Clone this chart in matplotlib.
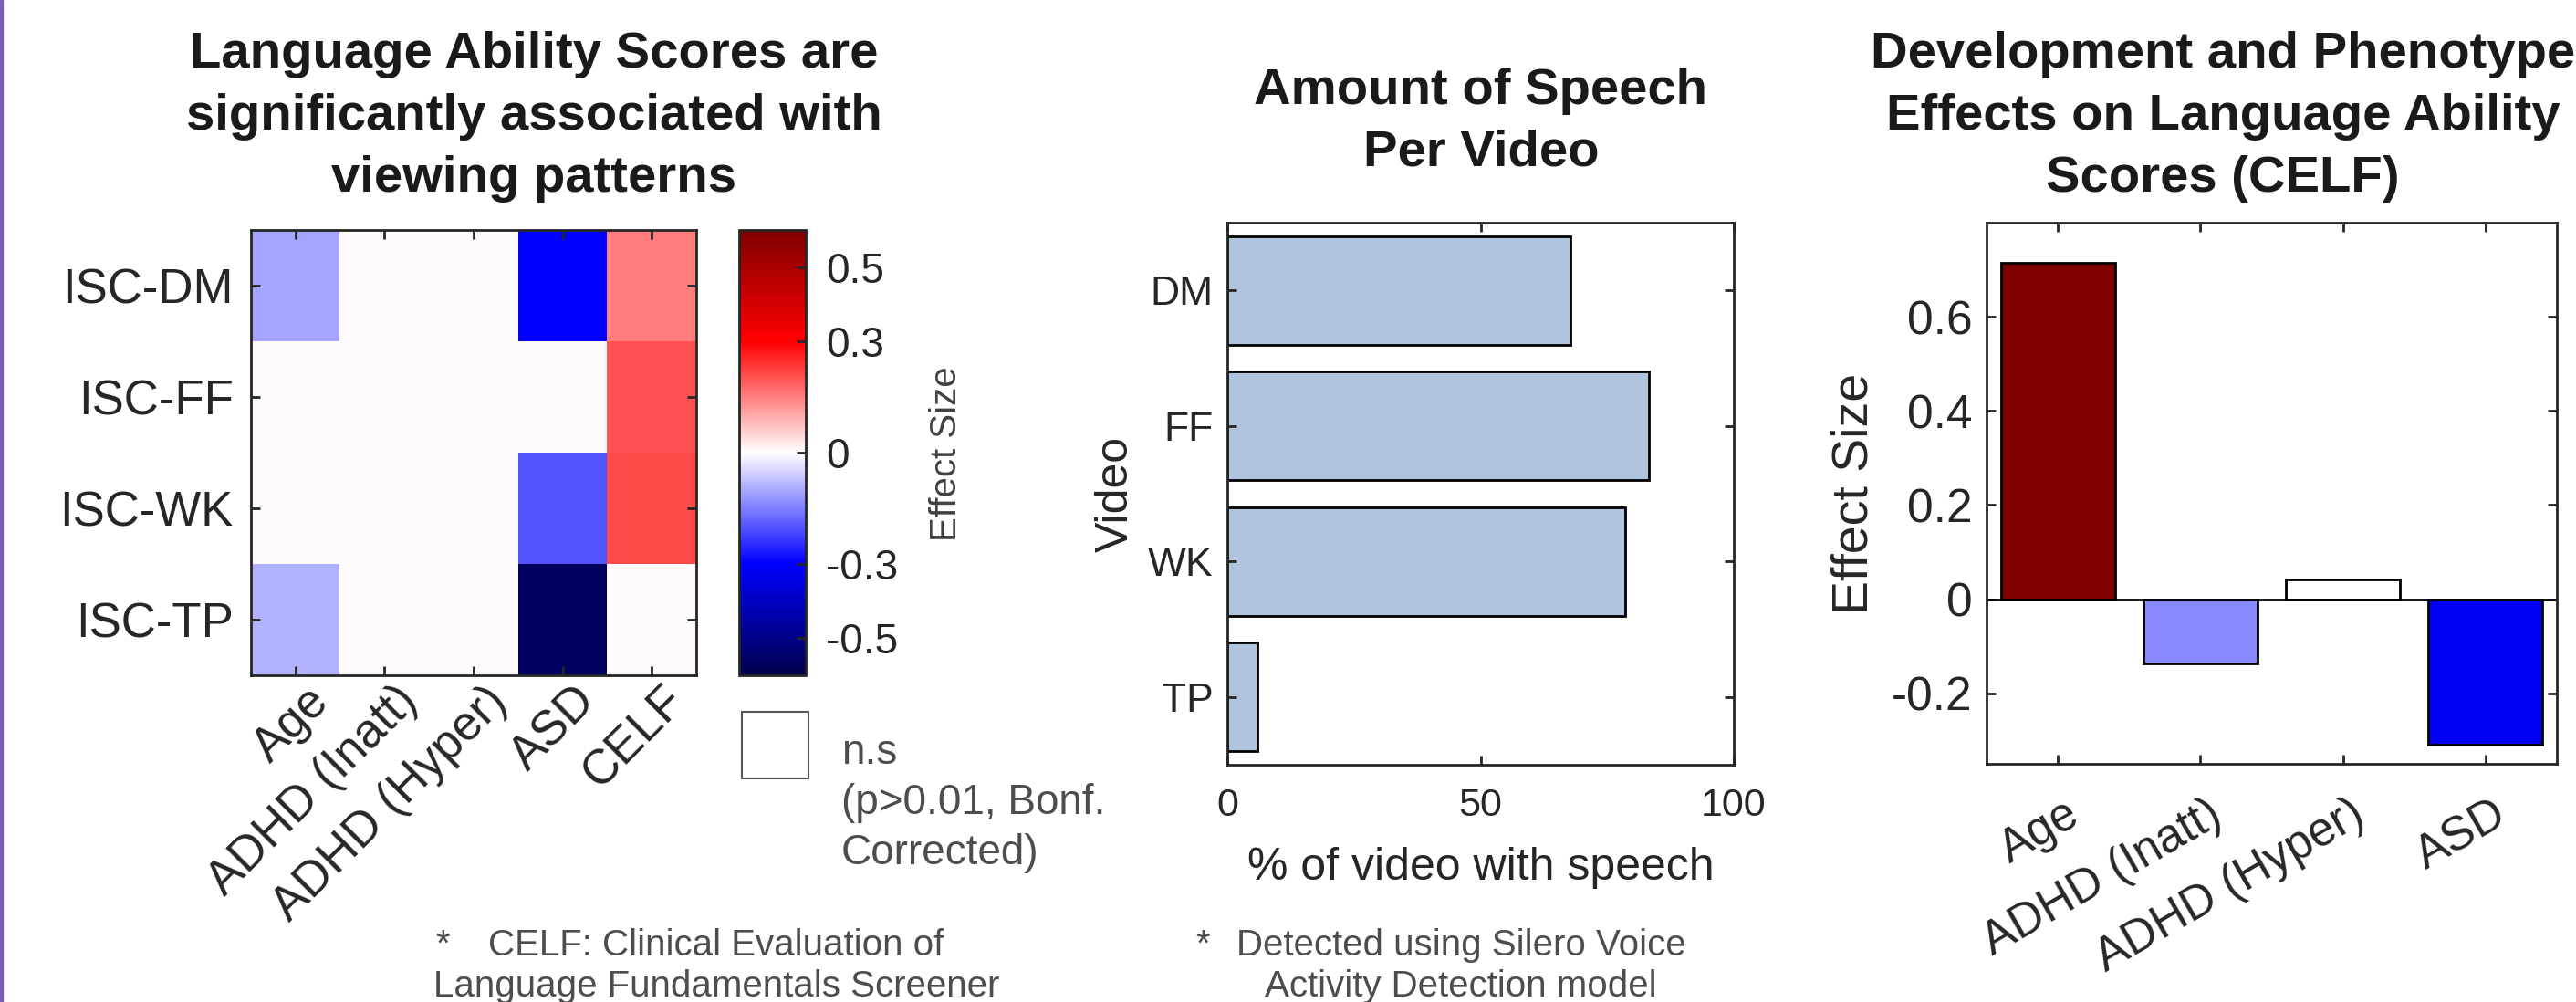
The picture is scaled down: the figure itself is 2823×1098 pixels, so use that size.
import numpy as np
import matplotlib
matplotlib.use("Agg")
import matplotlib.pyplot as plt
from matplotlib.colors import LinearSegmentedColormap, Normalize
from matplotlib.patches import Rectangle
from matplotlib.transforms import ScaledTranslation

plt.rcParams["font.family"] = ["Liberation Sans", "DejaVu Sans"]

# --- data -------------------------------------------------------------------
heat_rows = ["ISC-DM", "ISC-FF", "ISC-WK", "ISC-TP"]
heat_cols = ["Age", "ADHD (Inatt)", "ADHD (Hyper)", "ASD", "CELF"]
# effect sizes, NaN = not significant
heat_vals = np.array([
    [-0.107, np.nan, np.nan, -0.30, 0.150],
    [np.nan, np.nan, np.nan, np.nan, 0.206],
    [np.nan, np.nan, np.nan, -0.20, 0.215],
    [-0.093, np.nan, np.nan, -0.565, np.nan],
])

videos = ["DM", "FF", "WK", "TP"]
speech_pct = [67.8, 83.3, 78.6, 6.0]

pheno = ["Age", "ADHD (Inatt)", "ADHD (Hyper)", "ASD"]
pheno_eff = [0.714, -0.137, 0.042, -0.31]
pheno_sig = [True, True, False, True]

W, H = 2823, 1098
DARK = "#262626"
GREY = "#4d4d4d"


def rect(l, t, r, b):
    return [l / W, 1 - b / H, (r - l) / W, (b - t) / H]


def ftext(x, y, s, **kw):
    # x, y in picture pixels from the top-left corner
    return fig.text(x / W, 1 - y / H, s, **kw)


cmap = LinearSegmentedColormap.from_list(
    "es", [(0, (0, 0, 0.3)), (0.25, (0, 0, 1)), (0.5, (1, 1, 1)),
           (0.75, (1, 0, 0)), (1, (0.5, 0, 0))])
cmap.set_bad("#fffbfd")
norm = Normalize(-0.6, 0.6)


def style(ax, size):
    for s in ax.spines.values():
        s.set_linewidth(2)
        s.set_color(DARK)
    ax.tick_params(direction="in", length=7, width=2, color=DARK,
                   labelsize=size, labelcolor=DARK,
                   top=True, right=True)


def footnote(x_star, x_mid, lines):
    ftext(x_star, 1047, "*", **note_kw)
    for i, line in enumerate(lines):
        ftext(x_mid, 1047 + 45 * i, line, **note_kw)


fig = plt.figure(figsize=(W / 100, H / 100), dpi=100)
fig.patches.append(Rectangle((0, 0), 3 / W, 1, transform=fig.transFigure,
                             color="#7b5fb0", zorder=10))

title_kw = dict(ha="center", va="baseline", fontsize=40.5, fontweight="bold",
                color="#1a1a1a", linespacing=1.4)
note_kw = dict(ha="center", va="baseline", fontsize=29, color=GREY)

# --- heatmap ----------------------------------------------------------------
ax1 = fig.add_axes(rect(275, 252, 763, 740))
im = ax1.imshow(np.ma.masked_invalid(heat_vals), cmap=cmap, norm=norm,
                aspect="auto", interpolation="nearest")
style(ax1, 38)
ax1.set_xticks(range(len(heat_cols)))
ax1.set_xticklabels(heat_cols, rotation=45, ha="right", va="top",
                    rotation_mode="anchor")
ax1.set_yticks(range(len(heat_rows)))
ax1.set_yticklabels(heat_rows)
ax1.tick_params(axis="x", pad=2)
ax1.tick_params(axis="y", pad=14)
for lab in ax1.get_xticklabels():
    lab.set_transform(lab.get_transform() + ScaledTranslation(0.11, 0, fig.dpi_scale_trans))

cax = fig.add_axes(rect(810, 252, 883, 740))
cb = fig.colorbar(im, cax=cax, ticks=[-0.5, -0.3, 0, 0.3, 0.5])
cb.ax.set_yticklabels(["-0.5", "-0.3", "0", "0.3", "0.5"])
cb.outline.set_linewidth(2)
cb.outline.set_edgecolor(DARK)
cb.ax.tick_params(direction="in", length=7, width=2, color=DARK,
                  labelsize=33, labelcolor=DARK, pad=16)
ftext(1037, 497, "Effect Size", rotation=90, ha="center", va="center",
      fontsize=29, color="#404040")

fig.patches.append(Rectangle((813 / W, 1 - 853 / H), 73 / W, 73 / H,
                             transform=fig.transFigure, facecolor="white",
                             edgecolor="#555555", lw=1.5))
ftext(922, 947, "n.s\n(p>0.01, Bonf.\nCorrected)", ha="left",
      va="baseline", fontsize=33, color=GREY, linespacing=1.33)

ftext(585, 210, "Language Ability Scores are\nsignificantly associated with\nviewing patterns",
      **title_kw)
footnote(485, 785, ["CELF: Clinical Evaluation of",
                    "Language Fundamentals Screener"])

# --- speech bars --------------------------------------------------------------
ax2 = fig.add_axes(rect(1345, 244, 1900, 838))
ypos = np.arange(len(videos))
ax2.barh(ypos, speech_pct, height=0.8, color="#b0c4de", edgecolor="black",
         linewidth=2)
ax2.set_ylim(len(videos) - 0.5, -0.5)
ax2.set_xlim(0, 100)
ax2.set_xticks([0, 50, 100])
ax2.set_yticks(ypos)
ax2.set_yticklabels(videos)
style(ax2, 32)
ax2.tick_params(axis="x", pad=18, labelsize=31)
ax2.tick_params(axis="y", pad=11)
ax2.set_xlabel("% of video with speech", fontsize=36, color=DARK, labelpad=18)
ax2.set_ylabel("Video", fontsize=36, color=DARK)
ax2.yaxis.set_label_coords(-0.178, 0.5)
ftext(1623, 182, "Amount of Speech\nPer Video", **title_kw)
footnote(1318, 1601, ["Detected using Silero Voice",
                      "Activity Detection model"])

# --- phenotype effects ------------------------------------------------------------
ax3 = fig.add_axes(rect(2177, 244, 2802, 837))
xpos = np.arange(1, len(pheno) + 1)
cols = [cmap(norm(v)) if s else "white" for v, s in zip(pheno_eff, pheno_sig)]
ax3.bar(xpos, pheno_eff, width=0.8, color=cols, edgecolor="black", linewidth=2)
ax3.axhline(0, color="black", lw=2)
ax3.set_xlim(0.5, len(pheno) + 0.5)
ax3.set_ylim(-0.35, 0.8)
ax3.set_yticks([-0.2, 0, 0.2, 0.4, 0.6])
ax3.set_yticklabels(["-0.2", "0", "0.2", "0.4", "0.6"])
ax3.set_xticks(xpos)
ax3.set_xticklabels(pheno, rotation=30, ha="right", va="top",
                    rotation_mode="anchor")
style(ax3, 37)
ax3.tick_params(axis="x", pad=22)
ax3.tick_params(axis="y", pad=11)
for lab in ax3.get_xticklabels():
    lab.set_transform(lab.get_transform() + ScaledTranslation(0.07, 0, fig.dpi_scale_trans))
ax3.set_ylabel("Effect Size", fontsize=40, color=DARK)
ax3.yaxis.set_label_coords(-0.189, 0.5)
ftext(2436, 210, "Development and Phenotype\nEffects on Language Ability\nScores (CELF)",
      **title_kw)

fig.savefig("out.png", dpi=100)
